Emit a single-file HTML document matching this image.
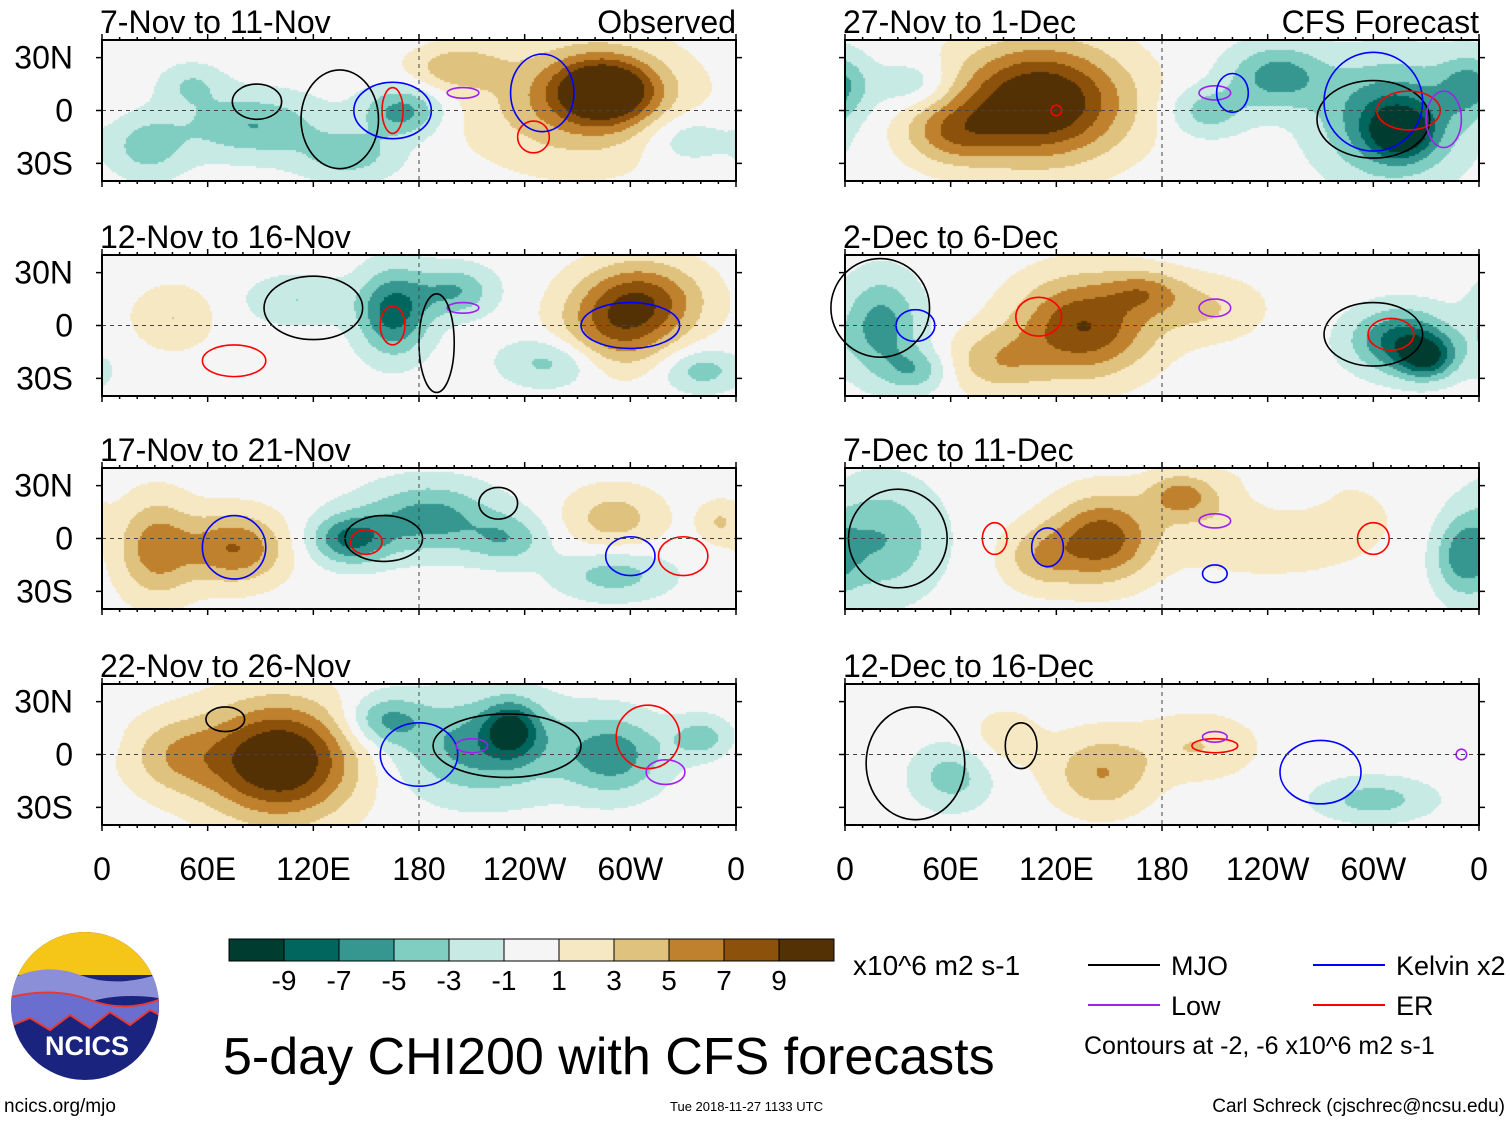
<!DOCTYPE html>
<html><head><meta charset="utf-8"><style>
body{margin:0;background:#fff;width:1510px;height:1121px;overflow:hidden;font-family:"Liberation Sans",sans-serif}
svg{position:absolute;left:0;top:0}
canvas{position:absolute}
</style></head><body>
<div id="maps"></div>
<svg id="ov" width="1510" height="1121"></svg>
<script>
// colour levels
const levels=[-9,-7,-5,-3,-1,1,3,5,7,9];
const colors=["#003c30","#01665e","#35978f","#80cdc1","#c7eae5","#f5f5f5","#f6e8c3","#dfc27d","#bf812d","#8c510a","#543005"];
const panelTitles=["7-Nov to 11-Nov","27-Nov to 1-Dec","12-Nov to 16-Nov","2-Dec to 6-Dec","17-Nov to 21-Nov","7-Dec to 11-Dec","22-Nov to 26-Nov","12-Dec to 16-Dec"];
const lonTicks=["0","60E","120E","180","120W","60W","0"];
const latTicks=["30N","0","30S"];
// anomaly blobs per panel: [lon, lat, lonRadius, latRadius, value]
const blobs1=[[285,12,28,18,11],[270,5,60,35,5],[200,25,25,12,4],[85,-8,40,18,-5],[170,0,22,14,-6],[140,-25,28,14,-4],[25,-20,22,18,-4],[330,-15,25,15,-3],[50,15,18,12,-3]];
const blobs2=[[305,15,35,22,8],[290,-5,32,22,5],[165,8,20,24,-8],[200,20,22,14,-5],[40,5,22,18,3],[110,15,28,14,-3],[255,-20,28,14,-4],[340,-25,22,12,-4]];
const blobs3=[[30,-5,22,28,6],[75,-5,28,20,7],[185,12,38,20,-6],[140,0,22,14,-7],[290,12,28,18,4],[290,-20,32,14,-4],[230,0,22,14,-4],[350,10,12,12,3]];
const blobs4=[[100,-3,42,32,12],[40,0,28,22,4],[215,5,48,28,-6],[232,15,15,15,-7],[290,0,28,22,-6],[160,20,22,14,-5],[340,10,18,12,-4]];
const blobs5=[[110,5,48,32,12],[60,-12,28,18,5],[310,-5,38,32,-8],[315,-12,16,13,-7],[245,20,28,18,-6],[205,0,22,14,-4],[40,15,22,14,-3],[355,15,18,18,-5]];
const blobs6=[[135,0,38,28,9],[85,-20,28,18,4],[20,0,22,28,-6],[315,-8,28,18,-8],[330,-18,16,12,-7],[205,10,32,18,3],[170,20,22,12,4],[40,-25,18,12,-4]];
const blobs7=[[20,0,32,32,-5],[145,0,28,24,8],[110,-10,22,18,4],[240,10,65,28,3],[250,25,22,12,-3],[350,-10,16,22,-5],[190,25,18,12,5]];
const blobs8=[[145,-10,28,22,5],[60,-12,22,18,-4],[300,-25,32,12,-4],[200,5,32,18,3],[90,10,22,18,2]];
const allBlobs=[blobs1,blobs5,blobs2,blobs6,blobs3,blobs7,blobs4,blobs8];
// contour ellipses per panel: [type, lon, lat, lonRadius, latRadius]
const cont1=[["mjo",88,5,14,10],["mjo",135,-5,22,28],["kelvin",165,0,22,16],["er",165,0,6,13],["low",205,10,9,3],["er",245,-15,9,9],["kelvin",250,10,18,22]];
const cont2=[["mjo",120,10,28,18],["er",165,0,7,11],["er",75,-20,18,9],["kelvin",300,0,28,13],["low",205,10,9,3],["mjo",190,-10,10,28]];
const cont3=[["kelvin",75,-5,18,18],["er",150,-2,9,7],["mjo",160,0,22,13],["kelvin",300,-10,14,11],["er",330,-10,14,11],["mjo",225,20,11,9]];
const cont4=[["mjo",230,5,42,18],["kelvin",180,0,22,18],["low",210,5,9,4],["er",310,10,18,18],["low",320,-10,11,7],["mjo",70,20,11,7]];
const cont5=[["mjo",300,-5,32,22],["kelvin",300,5,28,28],["er",320,0,18,11],["low",340,-5,10,16],["low",210,10,9,4],["kelvin",220,10,9,11],["er",120,0,3,3]];
const cont6=[["mjo",300,-5,28,18],["er",310,-5,13,9],["kelvin",40,0,11,9],["er",110,5,13,11],["low",210,10,9,5],["mjo",20,10,28,28]];
const cont7=[["er",85,0,7,9],["kelvin",115,-5,9,11],["low",210,10,9,4],["kelvin",210,-20,7,5],["er",300,0,9,9],["mjo",30,0,28,28]];
const cont8=[["mjo",100,5,9,13],["er",210,5,13,4],["low",210,10,7,3],["kelvin",270,-10,23,18],["mjo",40,-5,28,32],["low",350,0,3,3]];
const allCont=[cont1,cont5,cont2,cont6,cont3,cont7,cont4,cont8];
const ctype={mjo:"#000",kelvin:"#0000ff",er:"#ff0000",low:"#a020f0"};

const NS="http://www.w3.org/2000/svg";
const ov=document.getElementById('ov');
function mk(tag,attrs,parent){const e=document.createElementNS(NS,tag);for(const k in attrs)e.setAttribute(k,attrs[k]);(parent||ov).appendChild(e);return e;}
function txt(x,y,s,size,anchor,parent){const t=mk('text',{x:x,y:y,'font-size':size,'text-anchor':anchor||'start','font-family':'Liberation Sans, sans-serif',fill:'#000'},parent);t.textContent=s;return t;}
function colorFor(v){let i=0;while(i<levels.length&&v>levels[i])i++;return colors[i];}
const W=634,H=141;
const lonX=(x0,lon)=>x0+lon/360*W;
const latY=(y0,lat)=>y0+H/2-lat/40*(H/2);
const xs=[102,845], ys=[40,255,468,684];
for(let p=0;p<8;p++){
  const col=p%2,row=Math.floor(p/2);
  const x0=xs[col],y0=ys[row];
  const cv=document.createElement('canvas');cv.width=W;cv.height=H;
  cv.style.left=x0+'px';cv.style.top=y0+'px';
  
  
  document.getElementById('maps').appendChild(cv);
  const c=cv.getContext('2d');
  const cell=2;
  for(let px=0;px<W;px+=cell)for(let py=0;py<H;py+=cell){
    const lon=px/W*360,lat=40-py/H*80;let v=0;
    for(const b of allBlobs[p]){let d=Math.abs(lon-b[0]);if(d>180)d=360-d;
      v+=b[4]*Math.exp(-((d/b[2])**2+((lat-b[1])/b[3])**2));}
    c.fillStyle=colorFor(v);c.fillRect(px,py,cell,cell);
  }
  const g=mk('g',{});
  
  
  for(const k of allCont[p]){
    const e=mk('ellipse',{cx:lonX(x0,k[1]),cy:latY(y0,k[2]),rx:k[3]/360*W,ry:k[4]/80*H,fill:'none',stroke:ctype[k[0]],'stroke-width':1.6},g);
    
    
  }
  mk('line',{x1:x0,x2:x0+W,y1:latY(y0,0),y2:latY(y0,0),stroke:'#444','stroke-dasharray':'4,4','stroke-width':1},g);
  mk('line',{x1:lonX(x0,180),x2:lonX(x0,180),y1:y0,y2:y0+H,stroke:'#444','stroke-dasharray':'4,4','stroke-width':1},g);
  mk('rect',{x:x0,y:y0,width:W,height:H,fill:'none',stroke:'#000','stroke-width':2},g);
  for(let l=0;l<=360;l+=10){const x=lonX(x0,l),len=l%60==0?6:3;
    mk('line',{x1:x,x2:x,y1:y0,y2:y0-len,stroke:'#000','stroke-width':1.5},g);
    mk('line',{x1:x,x2:x,y1:y0+H,y2:y0+H+len,stroke:'#000','stroke-width':1.5},g);}
  [30,0,-30].forEach((la,i)=>{const y=latY(y0,la);
    mk('line',{x1:x0,x2:x0-6,y1:y,y2:y,stroke:'#000','stroke-width':1.5},g);
    mk('line',{x1:x0+W,x2:x0+W+6,y1:y,y2:y,stroke:'#000','stroke-width':1.5},g);
    if(col==0){const t=txt(73,y+11,latTicks[i],32,'end',g);}});
  const tt=txt(x0-2,y0-7,panelTitles[p],32,'start',g);
  
  if(row==0){const s=txt(x0+W,y0-7,col==0?'Observed':'CFS Forecast',32,'end',g);
    }
  if(row==3){lonTicks.forEach((s,i)=>{const t=txt(lonX(x0,i*60),880,s,32,'middle',g);
    });}
}
// colorbar
const cb=mk('g',{});


colors.forEach((c,i)=>{mk('rect',{x:229+i*55,y:939,width:55,height:22,fill:c,stroke:'#000','stroke-width':1},cb);});
levels.forEach((l,i)=>{const t=txt(229+(i+1)*55,990,String(l),28,'middle',cb);});
txt(853,975,'x10^6 m2 s-1',28,'start',cb);
// legend
const lg=mk('g',{});


[["mjo","MJO",1088,965],["kelvin","Kelvin x2",1313,965],["low","Low",1088,1005],["er","ER",1313,1005]].forEach(d=>{
  const e=mk('g',{},lg);
  
  
  mk('line',{x1:d[2],x2:d[2]+72,y1:d[3],y2:d[3],stroke:ctype[d[0]],'stroke-width':2},e);
  txt(d[2]+83,d[3]+10,d[1],27,'start',e);
});
txt(1084,1054,'Contours at -2, -6 x10^6 m2 s-1',25,'start',lg);
const title=txt(223,1074,'5-day CHI200 with CFS forecasts',52,'start');

const d1=txt(670,1111,'Tue 2018-11-27 1133 UTC',13,'start');

const d2=txt(4,1112,'ncics.org/mjo',19,'start');

const d3=txt(1505,1112,'Carl Schreck (cjschrec@ncsu.edu)',19,'end');

// logo
const lo=mk('g',{});


mk('clipPath',{id:'lc'},lo);
mk('circle',{cx:85,cy:1006,r:74},document.getElementById('lc'));
const lg2=mk('g',{'clip-path':'url(#lc)'},lo);
mk('rect',{x:0,y:930,width:170,height:160,fill:'#1a237e'},lg2);
mk('rect',{x:0,y:930,width:170,height:45,fill:'#f5c518'},lg2);
mk('path',{d:'M0 985 Q40 960 80 975 T170 970 L170 1000 Q120 990 80 1005 T0 1000Z',fill:'#8a8fd8'},lg2);
mk('path',{d:'M0 1000 Q50 985 90 1000 T170 995 L170 1020 L150 1010 L130 1025 L110 1012 L90 1028 L70 1015 L50 1030 L30 1018 L0 1030Z',fill:'#6a6fcf',stroke:'#e53935','stroke-width':2},lg2);
const lt=txt(87,1055,'NCICS',27,'middle',lo);lt.setAttribute('fill','#fff');lt.setAttribute('font-weight','bold');
</script>
</body></html>
